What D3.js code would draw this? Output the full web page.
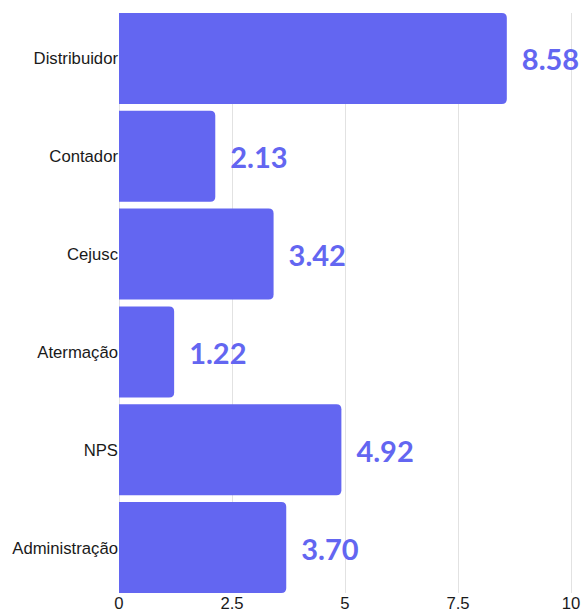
<!DOCTYPE html>
<html><head><meta charset="utf-8">
<script src="https://cdn.jsdelivr.net/npm/d3@7"></script>
<style>body{margin:0;background:#fff}svg{display:block}</style>
</head><body>
<svg id="c" width="582" height="609"></svg>
<script>
const categories = ["Distribuidor","Contador","Cejusc","Atermação","NPS","Administração"];
const values = [8.58, 2.13, 3.42, 1.22, 4.92, 3.70];
const xTicks = [0, 2.5, 5, 7.5, 10];

(function(){
const svg = d3.select("#c");
const mLeft = 119, mRight = 571, mTop = 13, mBottom = 593;
const x = d3.scaleLinear().domain([0, 10]).range([mLeft, mRight]);
const y = d3.scaleBand().domain(categories).range([mTop, mBottom]).paddingInner(0.07).paddingOuter(0);
const color = "#6366f1";

svg.append("g").selectAll("line").data(xTicks).join("line")
  .attr("x1", d => Math.round(x(d)) + 0.5).attr("x2", d => Math.round(x(d)) + 0.5)
  .attr("y1", mTop).attr("y2", mBottom)
  .attr("stroke", "#e2e2e2").attr("stroke-width", 1);

const r = 5;
function barPath(x0, x1, y0, h) {
  const rr = Math.min(r, (x1 - x0) / 2, h / 2);
  return `M${x0},${y0}H${x1 - rr}Q${x1},${y0} ${x1},${y0 + rr}V${y0 + h - rr}Q${x1},${y0 + h} ${x1 - rr},${y0 + h}H${x0}Z`;
}
svg.append("g").selectAll("path").data(categories).join("path")
  .attr("d", (c, i) => barPath(x(0), x(values[i]), y(c), y.bandwidth()))
  .attr("fill", color);

svg.append("g").selectAll("text").data(categories).join("text")
  .attr("x", (c, i) => x(values[i]) + 15)
  .attr("y", c => y(c) + y.bandwidth() / 2 + 12)
  .attr("font-family", "Lato, sans-serif").attr("font-weight", 700)
  .attr("font-size", 29).attr("fill", color)
  .text((c, i) => values[i].toFixed(2));

svg.append("g").selectAll("text").data(categories).join("text")
  .attr("x", mLeft - 1)
  .attr("y", c => y(c) + y.bandwidth() / 2 + 6)
  .attr("text-anchor", "end")
  .attr("font-family", "'Liberation Sans', Arial, sans-serif")
  .attr("font-size", 16.7).attr("fill", "#1a1a1a")
  .text(c => c);

svg.append("g").selectAll("text").data(xTicks).join("text")
  .attr("x", d => x(d))
  .attr("y", 609)
  .attr("text-anchor", "middle")
  .attr("font-family", "'Liberation Sans', Arial, sans-serif")
  .attr("font-size", 16.7).attr("fill", "#1a1a1a")
  .text(d => d);
})();
</script>
</body></html>
